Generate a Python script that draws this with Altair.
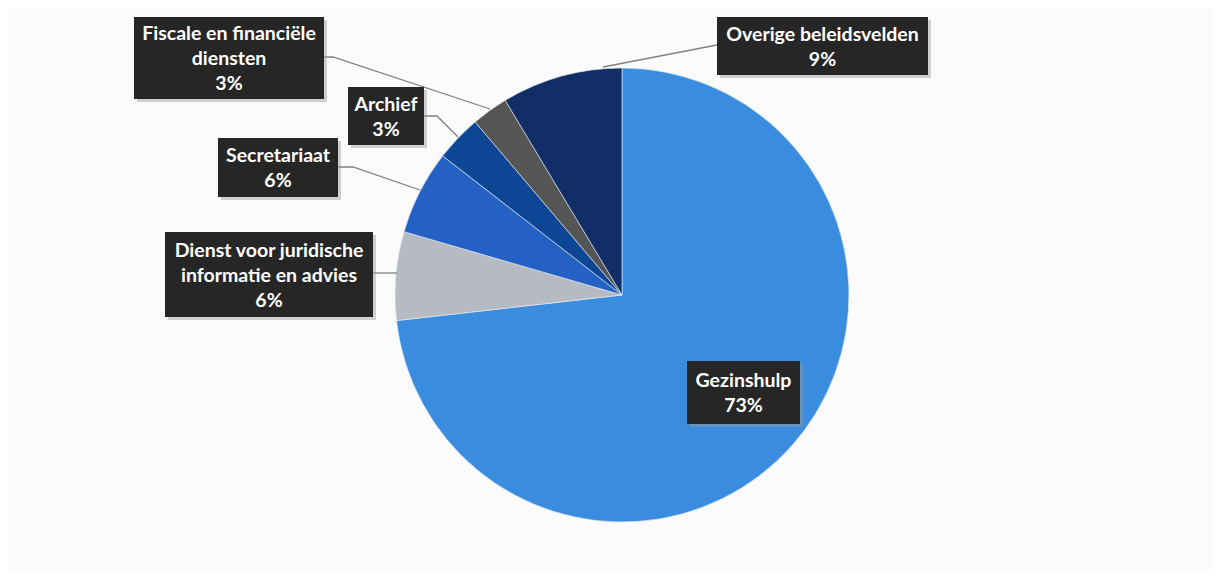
import altair as alt
import pandas as pd

# ---- data ----
categories = ["Gezinshulp", "Dienst voor juridische informatie en advies", "Secretariaat",
              "Archief", "Fiscale en financiële diensten", "Overige beleidsvelden"]
values = [73.2, 6.3, 6.0, 3.3, 2.6, 8.6]
label_lines = [["Gezinshulp"], ["Dienst voor juridische", "informatie en advies"], ["Secretariaat"],
               ["Archief"], ["Fiscale en financiële", "diensten"], ["Overige beleidsvelden"]]
colors = ["#3A8DDE", "#B6BAC2", "#2560C4", "#0E4696", "#555555", "#112F66"]

# ---- layout (page pixels) ----
OFF = 8
W, H = 1205, 562
CX, CY, R = 622, 295, 227
boxes = [(687, 361, 800, 424), (165, 232, 373, 317), (218, 138, 338, 197),
         (348, 87, 424, 145), (134, 17, 324, 99), (717, 17, 928, 75)]
leaders = [[], [(373, 273), (397, 273)], [(338, 167), (353, 167), (420, 190)],
           [(424, 116), (437, 116), (458, 137)], [(324, 57), (333, 57), (490, 109)],
           [(717, 45), (603, 67)]]
LINE_H = 25

pie_df = pd.DataFrame({"cat": categories, "value": values, "idx": list(range(len(values)))})

box_rows, text_rows, line_rows = [], [], []
for i, (c, v) in enumerate(zip(categories, values)):
    x0, y0, x1, y1 = boxes[i]
    box_rows.append({"cat": c, "x0": x0 - OFF, "x1": x1 - OFF, "y0": y0 - OFF, "y1": y1 - OFF,
                     "sx0": x0 - OFF + 3, "sx1": x1 - OFF + 3, "sy0": y0 - OFF + 3, "sy1": y1 - OFF + 3})
    lines = label_lines[i] + [f"{round(v)}%"]
    n = len(lines)
    cx = (x0 + x1) / 2 - OFF
    cy = (y0 + y1) / 2 - OFF
    for j, t in enumerate(lines):
        text_rows.append({"t": t, "x": cx, "y": cy + (j - (n - 1) / 2) * LINE_H + 1})
    for k, (px, py) in enumerate(leaders[i]):
        line_rows.append({"cat": c, "k": k, "x": px - OFF, "y": py - OFF})

box_df = pd.DataFrame(box_rows)
text_df = pd.DataFrame(text_rows)
line_df = pd.DataFrame(line_rows)

xs = alt.Scale(domain=[0, W])
ys = alt.Scale(domain=[H, 0])

pie = alt.Chart(pie_df).mark_arc(radius=R, stroke="#e8eef6", strokeWidth=0.6).encode(
    theta=alt.Theta("value:Q", stack=True),
    color=alt.Color("cat:N", scale=alt.Scale(domain=categories, range=colors), legend=None),
    order=alt.Order("idx:Q"),
    x=alt.value(CX - OFF),
    y=alt.value(CY - OFF),
)

lead = alt.Chart(line_df).mark_line(color="#808080", strokeWidth=1.3).encode(
    x=alt.X("x:Q", scale=xs, axis=None),
    y=alt.Y("y:Q", scale=ys, axis=None),
    detail="cat:N",
    order="k:Q",
)

shadow = alt.Chart(box_df).mark_rect(color="#9a9a9a", opacity=0.45).encode(
    x=alt.X("sx0:Q", scale=xs, axis=None), x2="sx1:Q",
    y=alt.Y("sy0:Q", scale=ys, axis=None), y2="sy1:Q",
)

box = alt.Chart(box_df).mark_rect(color="#262626").encode(
    x=alt.X("x0:Q", scale=xs, axis=None), x2="x1:Q",
    y=alt.Y("y0:Q", scale=ys, axis=None), y2="y1:Q",
)

txt = alt.Chart(text_df).mark_text(color="white", font="Lato", fontWeight="bold",
                                   fontSize=19.5, align="center", baseline="middle").encode(
    x=alt.X("x:Q", scale=xs, axis=None),
    y=alt.Y("y:Q", scale=ys, axis=None),
    text="t:N",
)

chart = alt.layer(pie, lead, shadow, box, txt).properties(
    width=W, height=H, autosize=alt.AutoSizeParams(type="none"), padding=0,
    background="#fbfbfb",
).configure_view(stroke=None)

chart.save("out.html", embed_options={"renderer": "svg", "actions": False})
